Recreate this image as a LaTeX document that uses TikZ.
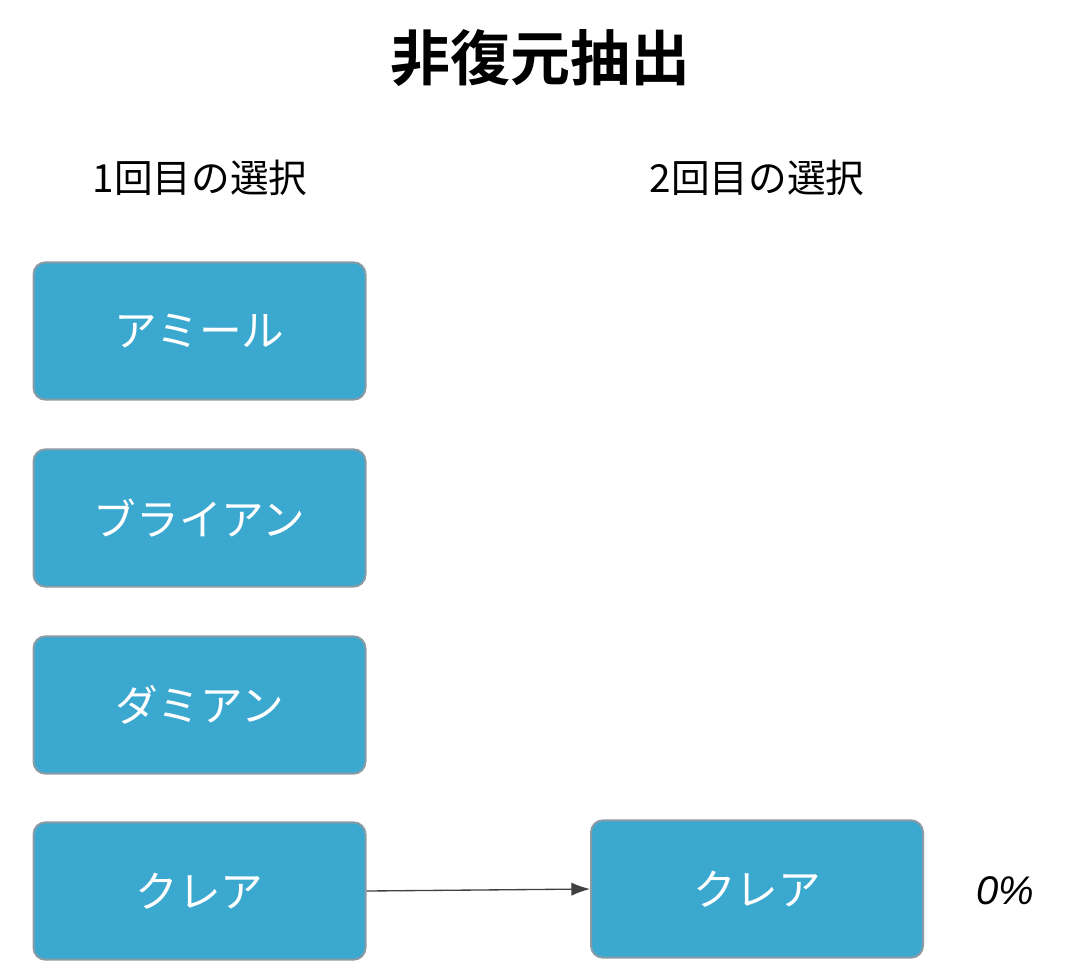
\documentclass[tikz,border=0pt]{standalone}
\usetikzlibrary{arrows.meta}
\usepackage{fontspec}
\newfontfamily\cjk{Noto Sans CJK JP}
\newfontfamily\cjkb{Noto Sans CJK JP}[BoldFont={* Bold}]
\setsansfont{Liberation Sans}
\definecolor{boxfill}{HTML}{3BA8CF}
\definecolor{boxline}{HTML}{8A9BA5}
\begin{document}
\begin{tikzpicture}[x=0.75pt,y=-0.75pt,
  box/.style={draw=boxline,line width=1.5pt,fill=boxfill,rounded corners=9pt,minimum width=249pt,minimum height=103pt,inner sep=0pt,text=white,font=\cjk\fontsize{32}{36}\selectfont},
  head/.style={font=\cjk\fontsize{29}{34}\selectfont}]
\useasboundingbox (0,0) rectangle (1086,976);
\node[font=\cjkb\bfseries\fontsize{45}{50}\selectfont] (title) at (540,58) {非復元抽出};
\node[head] (h1) at (200,178) {1回目の選択};
\node[head] (h2) at (757,178) {2回目の選択};
\node[box] (a) at (199.5,331) {アミール};
\node[box] (b) at (199.5,518) {ブライアン};
\node[box] (d) at (199.5,705) {ダミアン};
\node[box] (c) at (199.5,891) {クレア};
\node[box] (c2) at (757,889) {クレア};
\node[font=\sffamily\itshape\fontsize{30}{34}\selectfont] (p) at (1005,891) {0\%};
\draw[-{Latex[length=14pt,width=10pt]},line width=1pt,draw=black!75] (c.east) -- (c2.west);
\end{tikzpicture}
\end{document}
